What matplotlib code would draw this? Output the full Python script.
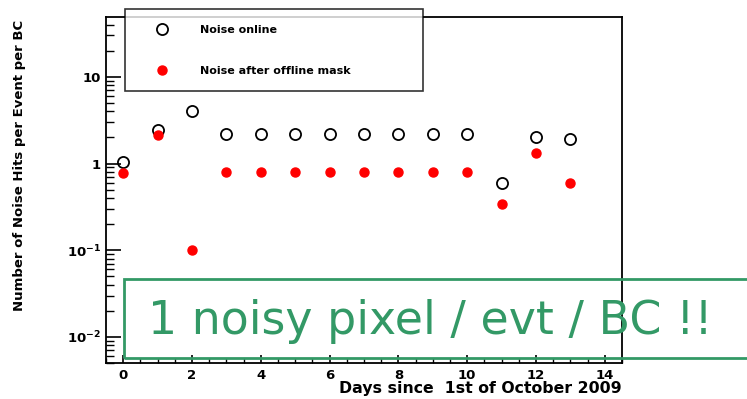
import numpy as np
import matplotlib.pyplot as plt
from matplotlib.patches import Rectangle
from matplotlib.ticker import FixedLocator, LogLocator, NullFormatter, MultipleLocator

days = [0, 1, 2, 3, 4, 5, 6, 7, 8, 9, 10, 11, 12, 13]
noise_online = [1.05, 2.45, 4.0, 2.2, 2.2, 2.2, 2.2, 2.2, 2.2, 2.2, 2.2, 0.6, 2.0, 1.9]
noise_masked = [0.77, 2.15, 0.1, 0.79, 0.79, 0.79, 0.79, 0.79, 0.79, 0.79, 0.79, 0.34, 1.34, 0.6]

ytick_vals = [0.01, 0.1, 1, 10]
ytick_labels = [r'$\mathbf{10^{-2}}$', r'$\mathbf{10^{-1}}$', '1', '10']

plt.rcParams['font.family'] = ['DejaVu Sans']
plt.rcParams['mathtext.fontset'] = 'dejavusans'

fig = plt.figure(figsize=(7.47, 3.99), dpi=100)
ax = fig.add_axes([0.1419, 0.0902, 0.6908, 0.8672])

l1, = ax.plot(days, noise_online, 'o', ms=8, mfc='none', mec='black', mew=1.3,
              label='Noise online')
l2, = ax.plot(days, noise_masked, 'o', ms=6.5, mfc='red', mec='red',
              label='Noise after offline mask')

ax.set_yscale('log')
ax.set_xlim(-0.5, 14.5)
ax.set_ylim(0.005, 49)

ax.xaxis.set_major_locator(MultipleLocator(2))
ax.xaxis.set_minor_locator(MultipleLocator(0.5))
ax.yaxis.set_major_locator(FixedLocator(ytick_vals))
ax.set_yticklabels(ytick_labels)
ax.yaxis.set_minor_locator(LogLocator(base=10, subs=np.arange(2, 10)))
ax.yaxis.set_minor_formatter(NullFormatter())

ax.tick_params(which='both', direction='in', top=False, right=False,
               labelsize=9.5)
ax.tick_params(axis='y', which='major', length=11, width=1.2)
ax.tick_params(axis='y', which='minor', length=6, width=1)
ax.tick_params(axis='x', which='major', length=6, width=1.2, pad=4)
ax.tick_params(axis='x', which='minor', length=3.5, width=1)
for lab in ax.get_xticklabels() + ax.get_yticklabels():
    lab.set_fontweight('bold')
for s in ax.spines.values():
    s.set_linewidth(1.3)

ax.set_ylabel('Number of Noise Hits per Event per BC', fontsize=9.5,
              fontweight='bold')
ax.yaxis.set_label_coords(-0.155, 0.572)
ax.set_xlabel('Days since  1st of October 2009', fontsize=11.3,
              fontweight='bold')
ax.xaxis.set_label_coords(1.0, -0.052)
ax.xaxis.label.set_horizontalalignment('right')

leg = fig.legend(handles=[l1, l2], loc='upper left',
                 bbox_to_anchor=(0.167, 0.767, 0.399, 0.21), mode='expand',
                 prop={'weight': 'bold', 'size': 8},
                 frameon=True, fancybox=False, edgecolor='black',
                 labelspacing=2.8, borderpad=1.4, handletextpad=1.5,
                 handlelength=3.86, borderaxespad=0)
leg.get_frame().set_linewidth(1.2)

green = '#339966'
fig.patches.append(Rectangle((0.166, 0.103), 0.9, 0.198, transform=fig.transFigure,
                             fill=False, edgecolor=green, linewidth=2))
fig.text(0.198, 0.195, '1 noisy pixel / evt / BC !!', color=green,
         fontsize=33, family='DejaVu Sans', fontweight='normal',
         va='center', ha='left')

fig.savefig('out.png', dpi=100)
